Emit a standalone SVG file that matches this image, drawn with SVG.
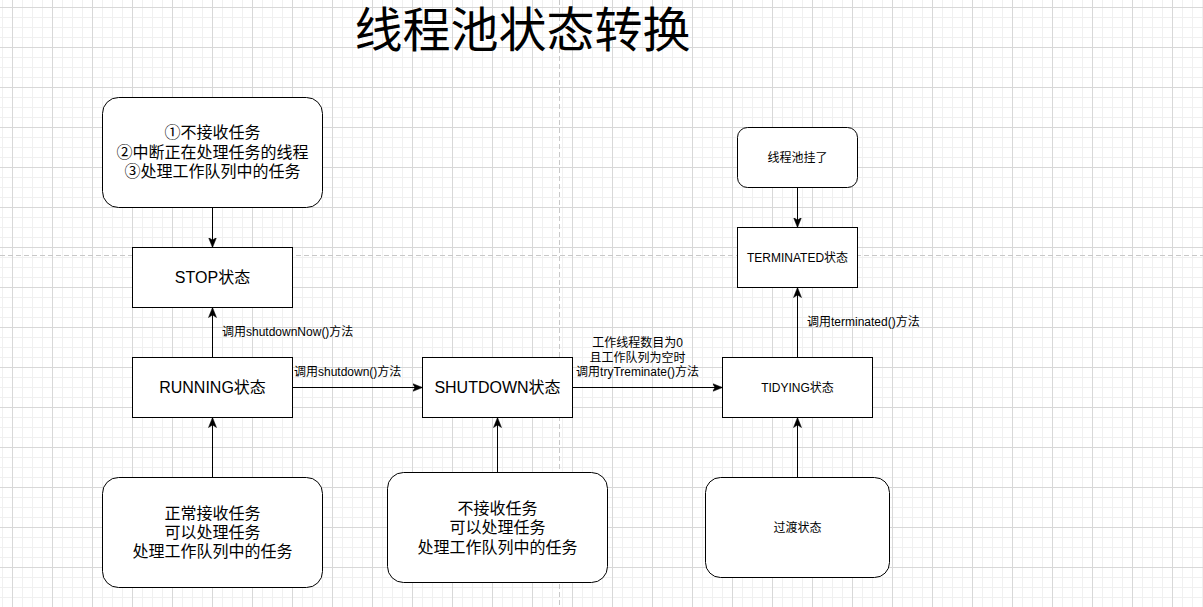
<svg xmlns="http://www.w3.org/2000/svg" width="1203" height="607" viewBox="0 0 1203 607">
  <style>
    .box { fill: #ffffff; stroke: #000000; stroke-width: 1; }
    .t16 { font-family: "Liberation Sans", "Noto Sans CJK SC", sans-serif; font-size: 16px; fill: #000; text-anchor: middle; dominant-baseline: central; }
    .t12 { font-family: "Liberation Sans", "Noto Sans CJK SC", sans-serif; font-size: 12px; fill: #000; text-anchor: middle; dominant-baseline: central; }
    .lbl { font-family: "Liberation Sans", "Noto Sans CJK SC", sans-serif; font-size: 12px; fill: #000; dominant-baseline: central; }
    .edge { fill: none; stroke: #000000; stroke-width: 1; marker-end: url(#arrow); }
    .title { font-family: "Liberation Sans", "Noto Sans CJK SC", sans-serif; font-size: 48px; fill: #000; text-anchor: middle; dominant-baseline: central; }
  </style>
  <defs>
    <pattern id="minor" x="2" y="7" width="10" height="10" patternUnits="userSpaceOnUse">
      <path d="M0.5,0 V10 M0,0.5 H10" stroke="#f0f0f0" stroke-width="1" fill="none"/>
    </pattern>
    <pattern id="major" x="12" y="7" width="40" height="40" patternUnits="userSpaceOnUse">
      <path d="M0.5,0 V40 M0,0.5 H40" stroke="#d8d8d8" stroke-width="1" fill="none"/>
    </pattern>
    <marker id="arrow" markerUnits="userSpaceOnUse" markerWidth="10" markerHeight="10" viewBox="0 0 10 10" refX="10" refY="5" orient="auto">
      <path d="M0,1 L10,5 L0,9 L2.5,5 Z" fill="#000" stroke="#000" stroke-width="0.5"/>
    </marker>
  </defs>

  <rect x="0" y="0" width="1203" height="607" fill="#ffffff"/>
  <rect x="0" y="0" width="1203" height="607" fill="url(#minor)"/>
  <rect x="0" y="0" width="1203" height="607" fill="url(#major)"/>
  <g id="page-breaks" stroke="#c8c8c8" stroke-width="1" stroke-dasharray="5 3">
    <line x1="559.5" y1="0" x2="559.5" y2="607"/>
    <line x1="0" y1="255.5" x2="1203" y2="255.5"/>
  </g>

  <text id="title" class="title" x="522.5" y="30.5">线程池状态转换</text>

  <g id="connectors">
    <line class="edge" x1="212.5" y1="207.5" x2="212.5" y2="247.5"/>
    <line class="edge" x1="212.5" y1="357.5" x2="212.5" y2="307.5"/>
    <line class="edge" x1="212.5" y1="477.5" x2="212.5" y2="417.5"/>
    <line class="edge" x1="292.5" y1="387.5" x2="422.5" y2="387.5"/>
    <line class="edge" x1="497.5" y1="472.5" x2="497.5" y2="417.5"/>
    <line class="edge" x1="572.5" y1="387.5" x2="722.5" y2="387.5"/>
    <line class="edge" x1="797.5" y1="477.5" x2="797.5" y2="417.5"/>
    <line class="edge" x1="797.5" y1="357.5" x2="797.5" y2="287.5"/>
    <line class="edge" x1="797.5" y1="187.5" x2="797.5" y2="227.5"/>
    <text class="lbl" x="222" y="332">调用shutdownNow()方法</text>
    <text class="lbl" x="294" y="372">调用shutdown()方法</text>
    <text class="t12" x="637.5" y="342.5">工作线程数目为0</text>
    <text class="t12" x="637.5" y="357.5">且工作队列为空时</text>
    <text class="t12" x="637.5" y="372">调用tryTreminate()方法</text>
    <text class="lbl" x="807" y="322">调用terminated()方法</text>
  </g>

  <g id="stop-note">
    <rect class="box" x="102.5" y="97.5" width="220" height="110" rx="16" ry="16"/>
    <text class="t16" x="212.5" y="132">①不接收任务</text>
    <text class="t16" x="212.5" y="152">②中断正在处理任务的线程</text>
    <text class="t16" x="212.5" y="171.5">③处理工作队列中的任务</text>
  </g>

  <g id="stop">
    <rect class="box" x="132.5" y="247.5" width="160" height="60"/>
    <text class="t16" x="212.5" y="277.5">STOP状态</text>
  </g>

  <g id="running">
    <rect class="box" x="132.5" y="357.5" width="160" height="60"/>
    <text class="t16" x="212.5" y="387.5">RUNNING状态</text>
  </g>

  <g id="running-note">
    <rect class="box" x="102.5" y="477.5" width="220" height="110" rx="16" ry="16"/>
    <text class="t16" x="212.5" y="513">正常接收任务</text>
    <text class="t16" x="212.5" y="532">可以处理任务</text>
    <text class="t16" x="212.5" y="551.5">处理工作队列中的任务</text>
  </g>

  <g id="shutdown">
    <rect class="box" x="422.5" y="357.5" width="150" height="60"/>
    <text class="t16" x="497.5" y="387.5">SHUTDOWN状态</text>
  </g>

  <g id="shutdown-note">
    <rect class="box" x="387.5" y="472.5" width="220" height="110" rx="16" ry="16"/>
    <text class="t16" x="497.5" y="508.5">不接收任务</text>
    <text class="t16" x="497.5" y="527.5">可以处理任务</text>
    <text class="t16" x="497.5" y="547">处理工作队列中的任务</text>
  </g>

  <g id="tidying">
    <rect class="box" x="722.5" y="357.5" width="150" height="60"/>
    <text class="t12" x="797.5" y="387.5">TIDYING状态</text>
  </g>

  <g id="transition-note">
    <rect class="box" x="705.5" y="477.5" width="184" height="100" rx="15" ry="15"/>
    <text class="t12" x="797.5" y="527.5">过渡状态</text>
  </g>

  <g id="terminated">
    <rect class="box" x="737.5" y="227.5" width="120" height="60"/>
    <text class="t12" x="797.5" y="257.5">TERMINATED状态</text>
  </g>

  <g id="dead-note">
    <rect class="box" x="737.5" y="127.5" width="120" height="60" rx="10" ry="10"/>
    <text class="t12" x="797.5" y="157.5">线程池挂了</text>
  </g>
</svg>
